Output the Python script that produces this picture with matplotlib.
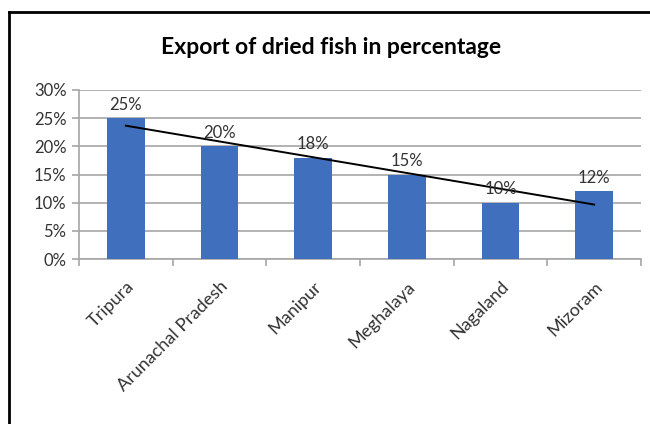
import matplotlib
matplotlib.use("Agg")
import matplotlib.pyplot as plt
import numpy as np
from matplotlib.lines import Line2D

plt.rcParams['font.family'] = ['Lato', 'DejaVu Sans']

states = ['Tripura', 'Arunachal Pradesh', 'Manipur', 'Meghalaya', 'Nagaland', 'Mizoram']
export_pct = [25, 20, 18, 15, 10, 12]
yticks = [0, 5, 10, 15, 20, 25, 30]

text_col = '#333333'
grid_col = '#a6a6a6'

fig = plt.figure(figsize=(6.5, 4.24), dpi=100)
ax = fig.add_axes([79/650, 165/424, 562/650, 169/424])

x = np.arange(len(states))
bars = ax.bar(x, export_pct, width=0.4, color='#4070bd', zorder=3)

# linear trendline, same as excel
slope, icpt = np.polyfit(x, export_pct, 1)
ax.plot(x, slope * x + icpt, color='black', lw=1.4, zorder=4)

for xi, v in zip(x, export_pct):
    ax.text(xi, v + 1.0, f'{v}%', ha='center', va='bottom', fontsize=12, color=text_col, zorder=5)

ax.set_xlim(-0.5, len(states) - 0.5)
ax.set_ylim(0, 30)
ax.set_yticks(yticks)
ax.set_yticklabels([f'{t}%' for t in yticks], fontsize=12, color=text_col)
ax.yaxis.grid(True, color=grid_col, lw=1.2, zorder=0)

ax.set_xticks(np.arange(len(states) + 1) - 0.5, minor=False)
ax.set_xticklabels([])
ax.set_xticks(x, minor=True)
ax.set_xticklabels(states, minor=True, rotation=45, ha='right', rotation_mode='anchor',
                   fontsize=13, color=text_col)
ax.tick_params(axis='x', which='minor', length=0, pad=14)
ax.tick_params(axis='x', which='major', length=5, color=grid_col, width=1.2)
ax.tick_params(axis='y', length=5, color=grid_col, width=1.2, pad=4)

for s in ['top', 'right']:
    ax.spines[s].set_visible(False)
for s in ['left', 'bottom']:
    ax.spines[s].set_color(grid_col)
    ax.spines[s].set_linewidth(1.2)

fig.text(0.51, 0.889, 'Export of dried fish in percentage', ha='center', va='center',
         fontsize=16.5, fontweight='bold', color='black')

# chart frame (only top and left visible in the crop)
fig.add_artist(Line2D([9/650, 9/650], [0, 1 - 12/424], color='black', lw=2, transform=fig.transFigure))
fig.add_artist(Line2D([9/650, 1], [1 - 12/424, 1 - 12/424], color='black', lw=2, transform=fig.transFigure))

fig.savefig('out.png', dpi=100)
